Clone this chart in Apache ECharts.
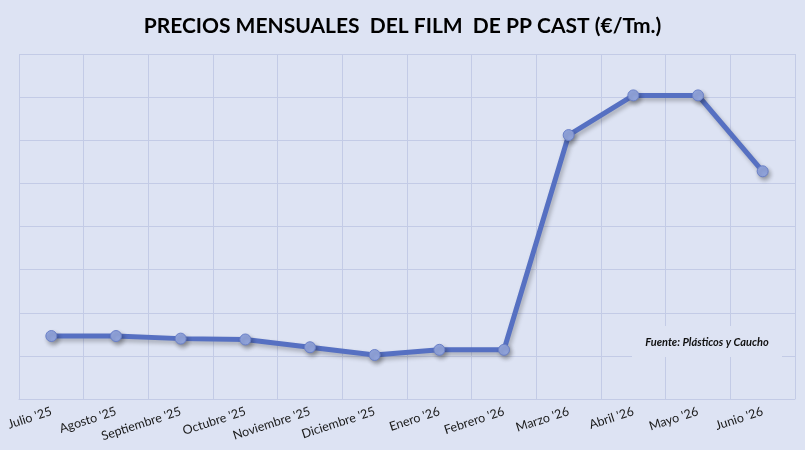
<!DOCTYPE html>
<html>
<head>
<meta charset="utf-8">
<script src="https://cdn.jsdelivr.net/npm/echarts@6/dist/echarts.min.js"></script>
<style>
html,body{margin:0;padding:0;background:#dde3f3;}
#chart{width:805px;height:450px;}
</style>
</head>
<body>
<div id="chart"></div>
<script>
/* precios mensuales film PP cast */
var meses = ["Julio '25", "Agosto '25", "Septiembre '25", "Octubre '25", "Noviembre '25", "Diciembre '25",
	"Enero '26", "Febrero '26", "Marzo '26", "Abril '26", "Mayo '26", "Junio '26"];
var precios = [1073, 1073, 1070, 1069, 1060, 1051, 1057, 1057, 1306, 1352, 1352, 1264];
var yMin = 1000, yMax = 1400, yStep = 50;

var mychart = echarts.init(document.getElementById('chart'));
var option = {
	backgroundColor: '#dde3f3',
	title: {
		text: 'PRECIOS MENSUALES  DEL FILM  DE PP CAST (€/Tm.)',
		left: 'center',
		top: 11,
		textStyle: {
			fontFamily: 'Lato',
			fontWeight: 'bold',
			fontSize: 21,
			color: '#000'
		}
	},
	grid: {
		left: 19,
		right: 10,
		top: 54,
		bottom: 51
	},
	xAxis: {
		type: 'category',
		data: meses,
		boundaryGap: true,
		axisLine: { lineStyle: { color: '#c3cbe6' } },
		axisTick: { show: false },
		splitLine: { show: true, lineStyle: { color: '#c3cbe6', width: 1 } },
		axisLabel: {
			interval: 0,
			rotate: 18,
			margin: 12,
			fontFamily: 'Lato',
			fontSize: 12.5,
			color: '#1a1a1a'
		}
	},
	yAxis: {
		type: 'value',
		min: yMin,
		max: yMax,
		interval: yStep,
		axisLine: { show: false },
		axisTick: { show: false },
		axisLabel: { show: false },
		splitLine: { lineStyle: { color: '#c3cbe6', width: 1 } }
	},
	series: [{
		type: 'line',
		data: precios,
		symbol: 'circle',
		symbolSize: 11,
		lineStyle: {
			color: '#5670c2',
			width: 5,
			shadowColor: 'rgba(0,0,0,0.25)',
			shadowBlur: 4,
			shadowOffsetX: 2,
			shadowOffsetY: 3
		},
		itemStyle: {
			color: '#91a4dc',
			borderColor: '#6a80c8',
			borderWidth: 1,
			shadowColor: 'rgba(0,0,0,0.3)',
			shadowBlur: 4,
			shadowOffsetX: 2,
			shadowOffsetY: 3
		},
		z: 5
	}],
	graphic: [{
		type: 'rect',
		shape: { x: 632, y: 326, width: 150, height: 31 },
		style: { fill: '#dde3f3' },
		z: 3
	}, {
		type: 'text',
		x: 707,
		y: 342,
		style: {
			text: 'Fuente: Plásticos y Caucho',
			fontFamily: 'Lato',
			fontWeight: 'bold',
			fontStyle: 'italic',
			fontSize: 11,
			fill: '#111',
			align: 'center',
			verticalAlign: 'middle'
		},
		z: 4
	}]
};
mychart.setOption(option);
</script>
</body>
</html>
